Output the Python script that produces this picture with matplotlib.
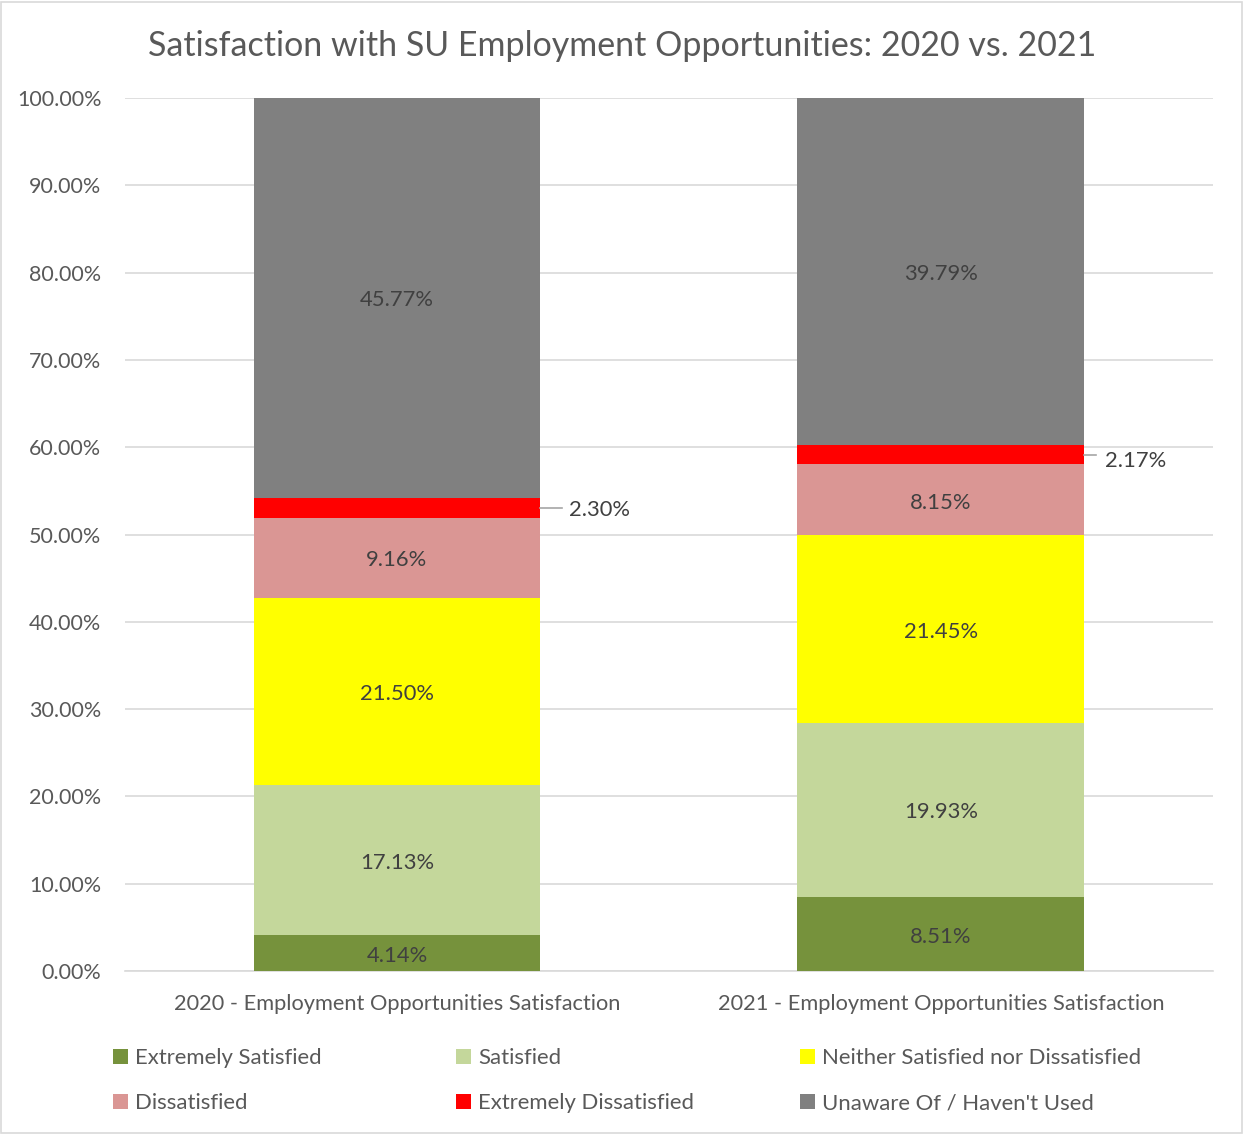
import matplotlib
matplotlib.use("Agg")
import matplotlib.pyplot as plt
from matplotlib.patches import Rectangle, Patch

plt.rcParams['font.family'] = ['Lato', 'DejaVu Sans']

categories = ["2020 - Employment Opportunities Satisfaction",
              "2021 - Employment Opportunities Satisfaction"]
series_names = ["Extremely Satisfied", "Satisfied", "Neither Satisfied nor Dissatisfied",
                "Dissatisfied", "Extremely Dissatisfied", "Unaware Of / Haven't Used"]
extremely_satisfied = [4.14, 8.51]
satisfied = [17.13, 19.93]
neither = [21.50, 21.45]
dissatisfied = [9.16, 8.15]
extremely_dissatisfied = [2.30, 2.17]
unaware = [45.77, 39.79]
colors = ["#76923C", "#C4D79B", "#FFFF00", "#DA9694", "#FF0000", "#808080"]
yticks = [0, 10, 20, 30, 40, 50, 60, 70, 80, 90, 100]

series = [extremely_satisfied, satisfied, neither, dissatisfied, extremely_dissatisfied, unaware]
txt = "#595959"
lblc = "#404040"

fig = plt.figure(figsize=(12.44, 11.34), dpi=100)
ax = fig.add_axes([0.1005, 0.1437, 0.8745, 0.7699])
x = list(range(len(categories)))
bottoms = [0.0, 0.0]
width = 0.5276
leader_len = [0.04, 0.022]
text_off = [0.053, 0.0386]
text_dy = [0.3, 0.7]
for name, vals, c in zip(series_names, series, colors):
    ax.bar(x, vals, width, bottom=bottoms, color=c, label=name, zorder=3)
    for i, (v, b) in enumerate(zip(vals, bottoms)):
        mid = b + v / 2
        if name == "Extremely Dissatisfied":
            xe = x[i] + width / 2
            ax.plot([xe, xe + leader_len[i]], [mid, mid], color="#a6a6a6", lw=1.2, zorder=4,
                    clip_on=False)
            ax.text(xe + text_off[i], mid - text_dy[i], f"{v:.2f}%", ha="left", va="center",
                    fontsize=15.8, color=lblc)
        else:
            ax.text(x[i], mid - 0.3, f"{v:.2f}%", ha="center", va="center", fontsize=15.8,
                    color=lblc, zorder=5)
    bottoms = [b + v for b, v in zip(bottoms, vals)]

ax.set_xlim(-0.5, 1.5)
ax.set_ylim(0, 100)
ax.set_yticks(yticks)
ax.set_yticklabels([f"{t:.2f}%" for t in yticks], fontsize=15.5, color=txt)
ax.set_xticks(x)
ax.set_xticklabels(categories, fontsize=15.7, color=txt)
ax.tick_params(axis="both", length=0)
ax.tick_params(axis="y", pad=17)
ax.tick_params(axis="x", pad=16.5)
ax.grid(axis="y", color="#d9d9d9", lw=1.2, zorder=0)
for s in ["top", "right", "left"]:
    ax.spines[s].set_visible(False)
ax.spines["bottom"].set_color("#d9d9d9")
ax.spines["bottom"].set_linewidth(1.2)

fig.text(0.5, 0.9595, "Satisfaction with SU Employment Opportunities: 2020 vs. 2021",
         ha="center", va="center", fontsize=24.5, color=txt)

col_x = [0.0905, 0.3665, 0.643]
cols = [[0, 3], [1, 4], [2, 5]]
for cx, idxs in zip(col_x, cols):
    lh = [Patch(facecolor=colors[i]) for i in idxs]
    ll = [series_names[i] for i in idxs]
    leg = fig.legend(lh, ll, loc="upper left", bbox_to_anchor=(cx, 0.0758),
                     frameon=False, fontsize=15.9, handlelength=0.7, handleheight=0.7,
                     handletextpad=0.3, labelspacing=1.15, borderaxespad=0, borderpad=0)
    for t in leg.get_texts():
        t.set_color(txt)

fig.patches.append(Rectangle((0.001, 0.001), 0.997, 0.997, transform=fig.transFigure,
                             fill=False, edgecolor="#d9d9d9", lw=1.2))

fig.savefig("out.png", dpi=100)
